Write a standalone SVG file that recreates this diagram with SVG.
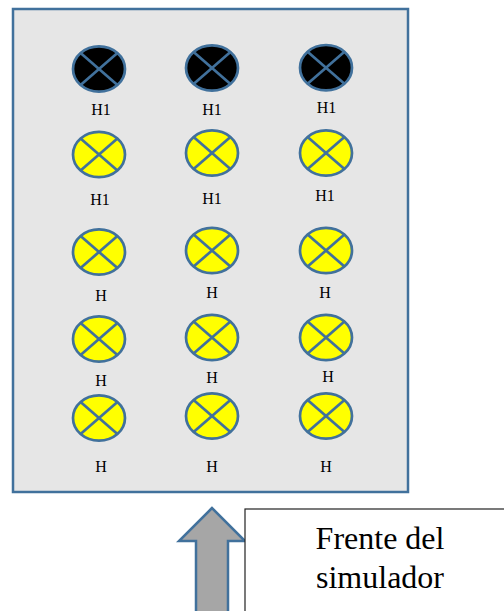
<svg xmlns="http://www.w3.org/2000/svg" width="504" height="611" viewBox="0 0 504 611">
<style>
.b{fill:#000;stroke:#41719c;stroke-width:2.7}
.y{fill:#ff0;stroke:#41719c;stroke-width:2.7}
.x{stroke:#41719c;stroke-width:2.7;fill:none}
text{font-family:"Liberation Serif","Times New Roman",serif;fill:#000;text-anchor:middle}
.l{font-size:16px}
.f{font-size:32px}
</style>
<defs>
<g id="cross"><line class="x" x1="-18.7" y1="-16.2" x2="18.7" y2="16.2"/><line class="x" x1="18.7" y1="-16.2" x2="-18.7" y2="16.2"/></g>
</defs>
<rect width="504" height="611" fill="#fff"/>
<g id="panel"><rect x="13" y="9" width="395" height="483" fill="#e6e6e6" stroke="#41719c" stroke-width="2.5"/></g>
<g id="n1"><ellipse class="b" cx="99" cy="69" rx="26" ry="22.7"/><use href="#cross" x="99" y="69"/><text class="l" x="101" y="115">H1</text></g>
<g id="n2"><ellipse class="b" cx="212" cy="68" rx="26" ry="22.7"/><use href="#cross" x="212" y="68"/><text class="l" x="212" y="115">H1</text></g>
<g id="n3"><ellipse class="b" cx="326" cy="67.700" rx="26" ry="22.7"/><use href="#cross" x="326" y="67.700"/><text class="l" x="326.500" y="113">H1</text></g>
<g id="n4"><ellipse class="y" cx="99" cy="154.500" rx="26" ry="22.7"/><use href="#cross" x="99" y="154.500"/><text class="l" x="100" y="205">H1</text></g>
<g id="n5"><ellipse class="y" cx="212" cy="153" rx="26" ry="22.7"/><use href="#cross" x="212" y="153"/><text class="l" x="212" y="204">H1</text></g>
<g id="n6"><ellipse class="y" cx="326" cy="153" rx="26" ry="22.7"/><use href="#cross" x="326" y="153"/><text class="l" x="325" y="200.500">H1</text></g>
<g id="n7"><ellipse class="y" cx="99" cy="252" rx="26" ry="22.7"/><use href="#cross" x="99" y="252"/><text class="l" x="101" y="301">H</text></g>
<g id="n8"><ellipse class="y" cx="212" cy="250.500" rx="26" ry="22.7"/><use href="#cross" x="212" y="250.500"/><text class="l" x="212" y="298">H</text></g>
<g id="n9"><ellipse class="y" cx="326" cy="250.500" rx="26" ry="22.7"/><use href="#cross" x="326" y="250.500"/><text class="l" x="325" y="298">H</text></g>
<g id="n10"><ellipse class="y" cx="99" cy="339" rx="26" ry="22.7"/><use href="#cross" x="99" y="339"/><text class="l" x="101" y="386">H</text></g>
<g id="n11"><ellipse class="y" cx="212" cy="337.500" rx="26" ry="22.7"/><use href="#cross" x="212" y="337.500"/><text class="l" x="212" y="383">H</text></g>
<g id="n12"><ellipse class="y" cx="326" cy="337.500" rx="26" ry="22.7"/><use href="#cross" x="326" y="337.500"/><text class="l" x="328" y="382">H</text></g>
<g id="n13"><ellipse class="y" cx="99" cy="418" rx="26" ry="22.7"/><use href="#cross" x="99" y="418"/><text class="l" x="101" y="472">H</text></g>
<g id="n14"><ellipse class="y" cx="212" cy="416" rx="26" ry="22.7"/><use href="#cross" x="212" y="416"/><text class="l" x="212" y="472">H</text></g>
<g id="n15"><ellipse class="y" cx="326" cy="416" rx="26" ry="22.7"/><use href="#cross" x="326" y="416"/><text class="l" x="326" y="472">H</text></g>
<g id="connectors"><path d="M212 508L179 541H196V613H228V541H245Z" fill="#a6a6a6" stroke="#41719c" stroke-width="2.5"/></g>
<g id="label"><rect x="245" y="509" width="262" height="106" fill="#fff" stroke="#222" stroke-width="1.2"/><text class="f" x="380" y="549">Frente del</text><text class="f" x="380" y="588">simulador</text></g>
</svg>
